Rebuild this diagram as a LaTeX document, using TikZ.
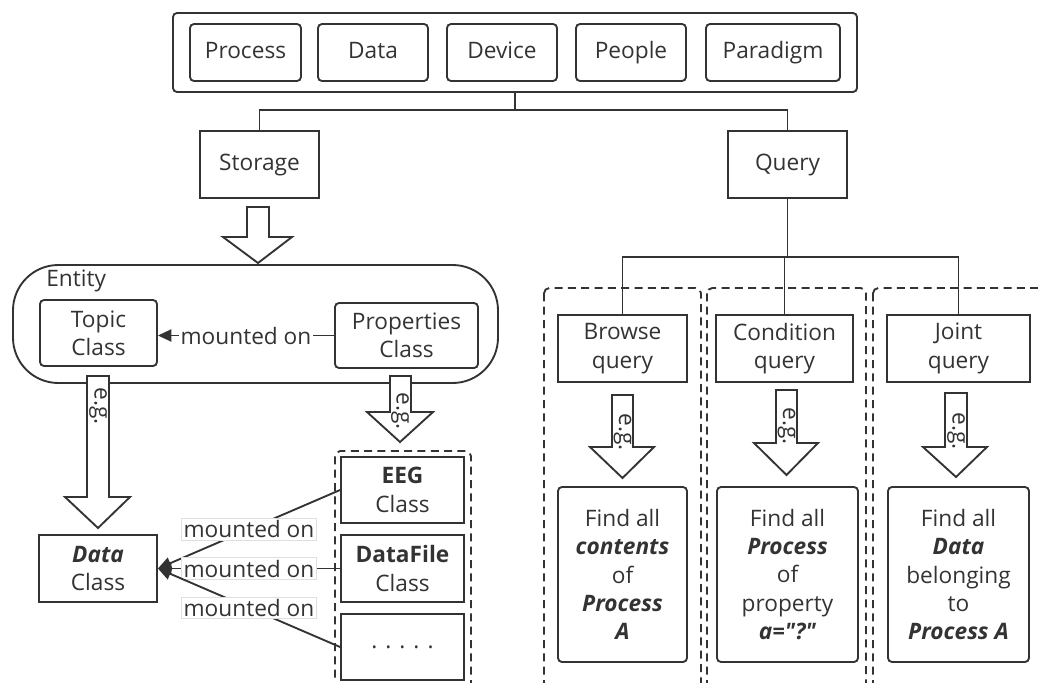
\documentclass[tikz,border=0pt]{standalone}
\usepackage{fontspec}
\setmainfont{Open Sans}[Ligatures=TeXOff]
\usetikzlibrary{arrows.meta}
\definecolor{ink}{HTML}{333333}
\tikzset{
  every node/.style={font=\fontsize{17}{21.2}\selectfont, text=ink},
  box/.style={draw=ink, line width=1.4pt, align=center, inner sep=0pt},
  rbox/.style={box, rounded corners=3pt},
  one/.style={text height=12.5pt, text depth=4pt},
  conn/.style={draw=ink, line width=1.4pt},
  blk/.style={draw=ink, line width=1.4pt, fill=white, line join=miter},
  dash box/.style={draw=ink, line width=1.4pt, dash pattern=on 6pt off 4pt, rounded corners=4pt},
  tip/.style={-{Triangle[length=10pt,width=9pt]}},
  eg/.style={rotate=-90, inner sep=0pt},
  lbl/.style={fill=white, inner sep=1pt},
  blbl/.style={fill=white, draw=gray!25, line width=0.5pt, inner sep=1.5pt}
}
\newcommand{\bi}[1]{\textbf{\textit{#1}}}
\begin{document}
\begin{tikzpicture}[x=0.75pt,y=-0.75pt]
\useasboundingbox (0,0) rectangle (1038,682);

% top group
\node[rbox, minimum width=513pt, minimum height=59.25pt] (top) at (515,52.5) {};
\node[rbox, one, minimum width=83.25pt, minimum height=42.75pt] (process) at (245.5,52.5) {Process};
\node[rbox, one, minimum width=82.5pt, minimum height=42.75pt] (data) at (373,52.5) {Data};
\node[rbox, one, minimum width=82.5pt, minimum height=42.75pt] (device) at (502,52.5) {Device};
\node[rbox, one, minimum width=82.5pt, minimum height=42.75pt] (people) at (631,52.5) {People};
\node[rbox, one, minimum width=100.5pt, minimum height=42.75pt] (paradigm) at (773,52.5) {Paradigm};

\node[box, one, minimum width=89.25pt, minimum height=50.25pt] (storage) at (259.5,164.5) {Storage};
\node[box, one, minimum width=89.25pt, minimum height=50.25pt] (query) at (787.5,164.5) {Query};
\coordinate (tj) at (515,110);
\draw[conn] (top.south) -- (tj);
\draw[conn] (storage.north) |- (tj) -| (query.north);

% storage block arrow
\draw[blk] (247,207) -- (247,237) -- (223,237) -- (258,263) -- (292,237) -- (269,237) -- (269,207) -- cycle;

% entity
\node[draw=ink, line width=1.4pt, rounded corners=34pt, minimum width=363.75pt, minimum height=88.5pt] (entity) at (255.5,324) {};
\node[anchor=west, inner sep=0pt] (entlbl) at (46,281) {Entity};
\node[rbox, minimum width=87.75pt, minimum height=49.5pt] (topic) at (98.5,333) {Topic\\Class};
\node[rbox, minimum width=107.25pt, minimum height=48.75pt] (props) at (406.5,335.5) {Properties\\Class};
\draw[conn, tip] (props.west) -- node[lbl] {mounted on} (topic.east |- props.west);

% topic e.g. arrow
\draw[blk] (87,376) -- (87,497) -- (65,497) -- (98,528) -- (130,497) -- (109,497) -- (109,376) -- cycle;
\node[eg] (eg1) at (98,406) {e.g.};
% properties e.g. arrow
\draw[blk] (390,376) -- (390,412) -- (367,412) -- (400,442) -- (433,412) -- (411,412) -- (411,376) -- cycle;
\node[eg] (eg2) at (400,411) {e.g.};

\node[box, minimum width=88.5pt, minimum height=50.25pt] (dataclass) at (98,568.5) {\bi{Data}\\Class};

% subclass container
\draw[dash box] (335,451) rectangle (471,700);
\node[box, minimum width=92.25pt, minimum height=49.5pt] (eeg) at (402.5,490) {\textbf{EEG}\\Class};
\node[box, minimum width=92.25pt, minimum height=50.25pt] (datafile) at (402.5,568.5) {\textbf{DataFile}\\Class};
\node[box, minimum width=92.25pt, minimum height=49.5pt] (dots) at (402.5,647) {.\hspace{6pt}.\hspace{6pt}.\hspace{6pt}.\hspace{6pt}.};

\draw[conn, tip] (eeg.west) -- node[blbl] {mounted on} (dataclass.east);
\draw[conn, tip] (datafile.west) -- node[blbl] {mounted on} (dataclass.east);
\draw[conn, tip] (dots.west) -- node[blbl] {mounted on} (dataclass.east);

% query side containers
\draw[dash box] (544,288) rectangle (701,700);
\draw[dash box] (707,288) rectangle (866,700);
\draw[dash box] (873,288) rectangle (1070,700);

\node[box, minimum width=96.75pt, minimum height=50.25pt] (browse) at (622.5,348.5) {Browse\\query};
\node[box, minimum width=102.75pt, minimum height=50.25pt] (cond) at (784.5,348.5) {Condition\\query};
\node[box, minimum width=107.25pt, minimum height=50.25pt] (joint) at (958.5,348.5) {Joint\\query};

\coordinate (qj) at (787.5,257);
\draw[conn] (query.south) -- (qj);
\draw[conn] (browse.north) |- (qj) -| (joint.north);
\draw[conn] (cond.north) -- (cond.north |- qj);

% e.g. arrows right
\draw[blk] (612,395) -- (612,447) -- (590,447) -- (622.5,478) -- (654,447) -- (633,447) -- (633,395) -- cycle;
\node[eg] (eg3) at (622.5,432) {e.g.};
\draw[blk] (776,390) -- (776,443) -- (754,443) -- (786.5,475) -- (818,443) -- (797,443) -- (797,390) -- cycle;
\node[eg] (eg4) at (786.5,426) {e.g.};
\draw[blk] (945,393) -- (945,447) -- (923,447) -- (956,477) -- (987,447) -- (967,447) -- (967,393) -- cycle;
\node[eg] (eg5) at (956,431) {e.g.};

% result boxes
\node[rbox, minimum width=96.75pt, minimum height=131.25pt] (res1) at (622.5,574.5) {Find all\\\bi{contents}\\of\\\bi{Process}\\\bi{A}};
\node[rbox, minimum width=105.75pt, minimum height=131.25pt] (res2) at (787.5,574.5) {Find all\\\bi{Process}\\of\\property\\\bi{a="?"}};
\node[rbox, minimum width=105.75pt, minimum height=131.25pt] (res3) at (958.5,574.5) {Find all\\\bi{Data}\\belonging\\to\\\bi{Process A}};
\end{tikzpicture}
\end{document}
